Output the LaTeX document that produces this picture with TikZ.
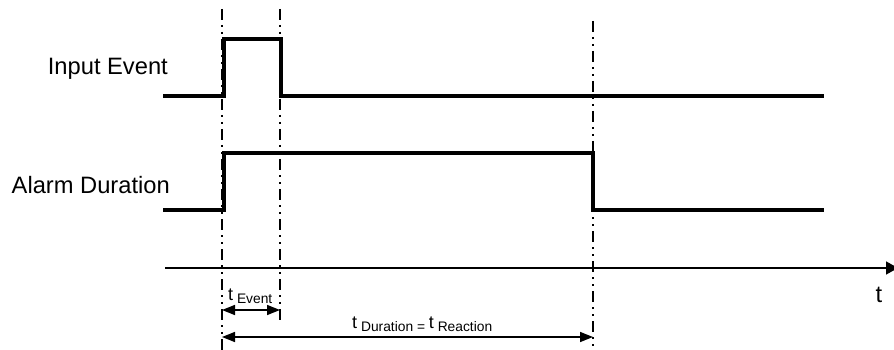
\documentclass[tikz,border=0pt]{standalone}
\usepackage{fontspec}
\setmainfont{Liberation Sans}
\usetikzlibrary{arrows.meta}
\newcommand{\bigt}{{\fontsize{18}{20}\selectfont t}}
\newcommand{\lowtxt}[1]{\raisebox{-3.5pt}{\fontsize{13.8}{16}\selectfont #1}}
\begin{document}
\begin{tikzpicture}[x=1pt,y=-1pt,
  sig/.style={line width=4pt, line join=miter, line cap=rect},
  guide/.style={line width=2.3pt, dash pattern=on 11pt off 5pt on 2pt off 5pt on 2pt off 5pt},
  dimline/.style={line width=1.5pt, {Triangle[length=13pt,width=10pt]}-{Triangle[length=13pt,width=10pt]}},
  biglbl/.style={font=\fontsize{23.7}{26}\selectfont, inner sep=0pt},
  smalllbl/.style={inner sep=0pt}]
\useasboundingbox (0,0) rectangle (894,350);
% guides
\coordinate (g1t) at (222,9);   \coordinate (g1b) at (222,350);
\coordinate (g2t) at (280,9);   \coordinate (g2b) at (280,323);
\coordinate (g3t) at (593,21);  \coordinate (g3b) at (593,350);
\draw[guide] (g1t) -- (g1b);
\draw[guide] (g2t) -- (g2b);
\draw[guide] (g3t) -- (g3b);
% signals
\draw[sig] (165,96) -- (224,96) -- (224,39) -- (281,39) -- (281,96) -- (822,96);
\draw[sig] (165,210) -- (224,210) -- (224,153) -- (593,153) -- (593,210) -- (822,210);
% labels
\node[biglbl, anchor=base east] (inp) at (168,75) {Input Event};
\node[biglbl, anchor=base east] (alm) at (170,193) {Alarm Duration};
% axis
\coordinate (ax0) at (165,268);
\coordinate (ax1) at (898,268);
\draw[line width=1.6pt, -{Triangle[length=12pt,width=13pt]}] (ax0) -- (ax1);
\node[biglbl, anchor=base] (tlab) at (879,302) {t};
% dimensions
\coordinate (e0) at (222,310); \coordinate (e1) at (280,310);
\draw[dimline] (e0) -- (e1);
\node[smalllbl, anchor=base west] (tev) at (228,300)
  {\bigt\lowtxt{\ Event}};
\coordinate (d0) at (222,337); \coordinate (d1) at (593,337);
\draw[dimline] (d0) -- (d1);
\node[smalllbl, anchor=base west] (tdur) at (352,328)
  {\bigt\lowtxt{\ Duration = }\bigt\lowtxt{\ Reaction}};
\end{tikzpicture}
\end{document}
